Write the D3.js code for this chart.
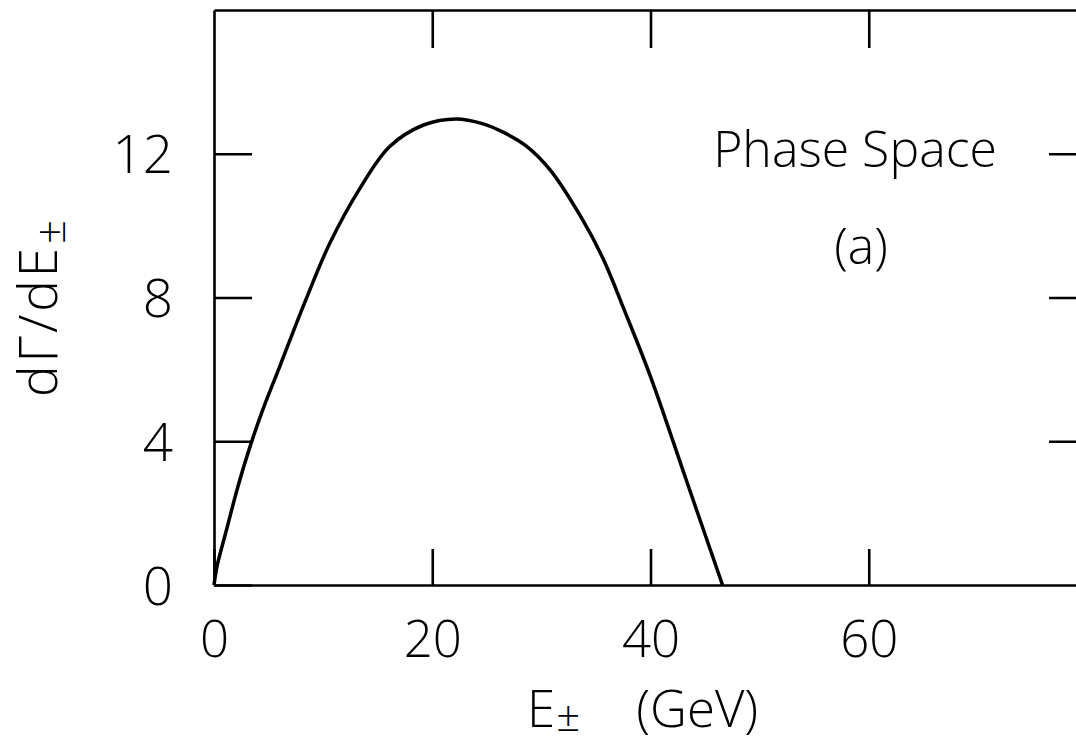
<!DOCTYPE html>
<html>
<head>
<meta charset="utf-8">
<script src="https://cdn.jsdelivr.net/npm/d3@7"></script>
<style>
  html, body { margin: 0; padding: 0; background: #fff; }
  svg { display: block; }
  text { font-family: "Open Sans", "DejaVu Sans", sans-serif; font-weight: 300; fill: #000; }
</style>
</head>
<body>
<svg id="chart" width="1076" height="746"></svg>
<script>
// ---- data ----
const energy = [0, 0.3, 1.16, 2.2, 3.3, 4.5, 6.05, 8.3, 10.6, 13.4, 16.1, 19.2, 22.2, 24.6, 26.5, 28.6, 30.8, 33.8, 35.7, 37.6, 40.0, 43.3, 46.6];
const rate   = [0, 0.55, 1.55, 2.75, 3.85, 4.9, 6.1, 7.85, 9.5, 11.05, 12.2, 12.8, 12.97, 12.84, 12.6, 12.22, 11.55, 10.15, 9.05, 7.65, 5.8, 2.9, 0];
const xTicks = [0, 20, 40, 60];
const yTicks = [0, 4, 8, 12];
const xDomain = [0, 80];
const yDomain = [0, 16];

const svg = d3.select("#chart");
const mLeft = 214, mRight = 1087, mTop = 10, mBottom = 585;

const x = d3.scaleLinear().domain(xDomain).range([mLeft, mRight]);
const y = d3.scaleLinear().domain(yDomain).range([mBottom, mTop]);

const axisStroke = 2.6;
function styleAxis(g) {
  g.attr("font-family", null).attr("font-size", null);
  g.select(".domain").attr("stroke", "#000").attr("stroke-width", axisStroke);
  g.selectAll(".tick line").attr("stroke", "#000").attr("stroke-width", axisStroke);
}

// bottom axis
const gx = svg.append("g").attr("transform", `translate(0,${mBottom})`)
  .call(d3.axisBottom(x).tickValues(xTicks).tickSizeInner(-36).tickSizeOuter(0).tickFormat(d3.format("d")));
styleAxis(gx);
gx.selectAll(".tick text").attr("y", 72).attr("dy", 0).style("font-size", "51px");

// top axis
const gt = svg.append("g").attr("transform", `translate(0,${mTop})`)
  .call(d3.axisTop(x).tickValues(xTicks.filter(d => d > 0)).tickSizeInner(-38).tickSizeOuter(0).tickFormat(""));
styleAxis(gt);

// left axis
const gy = svg.append("g").attr("transform", `translate(${mLeft},0)`)
  .call(d3.axisLeft(y).tickValues(yTicks).tickSizeInner(-38).tickSizeOuter(0).tickFormat(d3.format("d")));
styleAxis(gy);
gy.selectAll(".tick text").attr("x", -41).attr("dy", 0).attr("y", 19).style("font-size", "53px");

// right axis
const gr = svg.append("g").attr("transform", `translate(${mRight},0)`)
  .call(d3.axisRight(y).tickValues(yTicks.filter(d => d > 0)).tickSizeInner(-38).tickSizeOuter(0).tickFormat(""));
styleAxis(gr);

// curve
const pts = energy.map((e, i) => [e, rate[i]]);
const line = d3.line().x(d => x(d[0])).y(d => y(d[1])).curve(d3.curveCatmullRom.alpha(0.5));
svg.append("path").datum(pts).attr("d", line)
  .attr("fill", "none").attr("stroke", "#000").attr("stroke-width", 3.5)
  .attr("stroke-linejoin", "round");

// annotations
svg.append("text").attr("x", 855).attr("y", 167).attr("text-anchor", "middle")
  .style("font-size", "50px").text("Phase Space");
svg.append("text").attr("x", 861).attr("y", 264).attr("text-anchor", "middle")
  .style("font-size", "50px").text("(a)");

// x axis title: E± (GeV)
const xt = svg.append("text").attr("x", 527).attr("y", 727).style("font-size", "51px");
xt.append("tspan").text("E");
xt.append("tspan").attr("dy", 4).attr("dx", 1).style("font-size", "42px").text("±");
xt.append("tspan").attr("dy", -4).attr("dx", 56).text("(GeV)");

// y axis title: dΓ/dE±
const yt = svg.append("text")
  .attr("transform", `translate(57,397) rotate(-90)`)
  .style("font-size", "53px").style("letter-spacing", "3px");
yt.append("tspan").text("dΓ/dE");
yt.append("tspan").attr("dy", 8).attr("dx", 1).style("font-size", "42px").text("±");
</script>
</body>
</html>
